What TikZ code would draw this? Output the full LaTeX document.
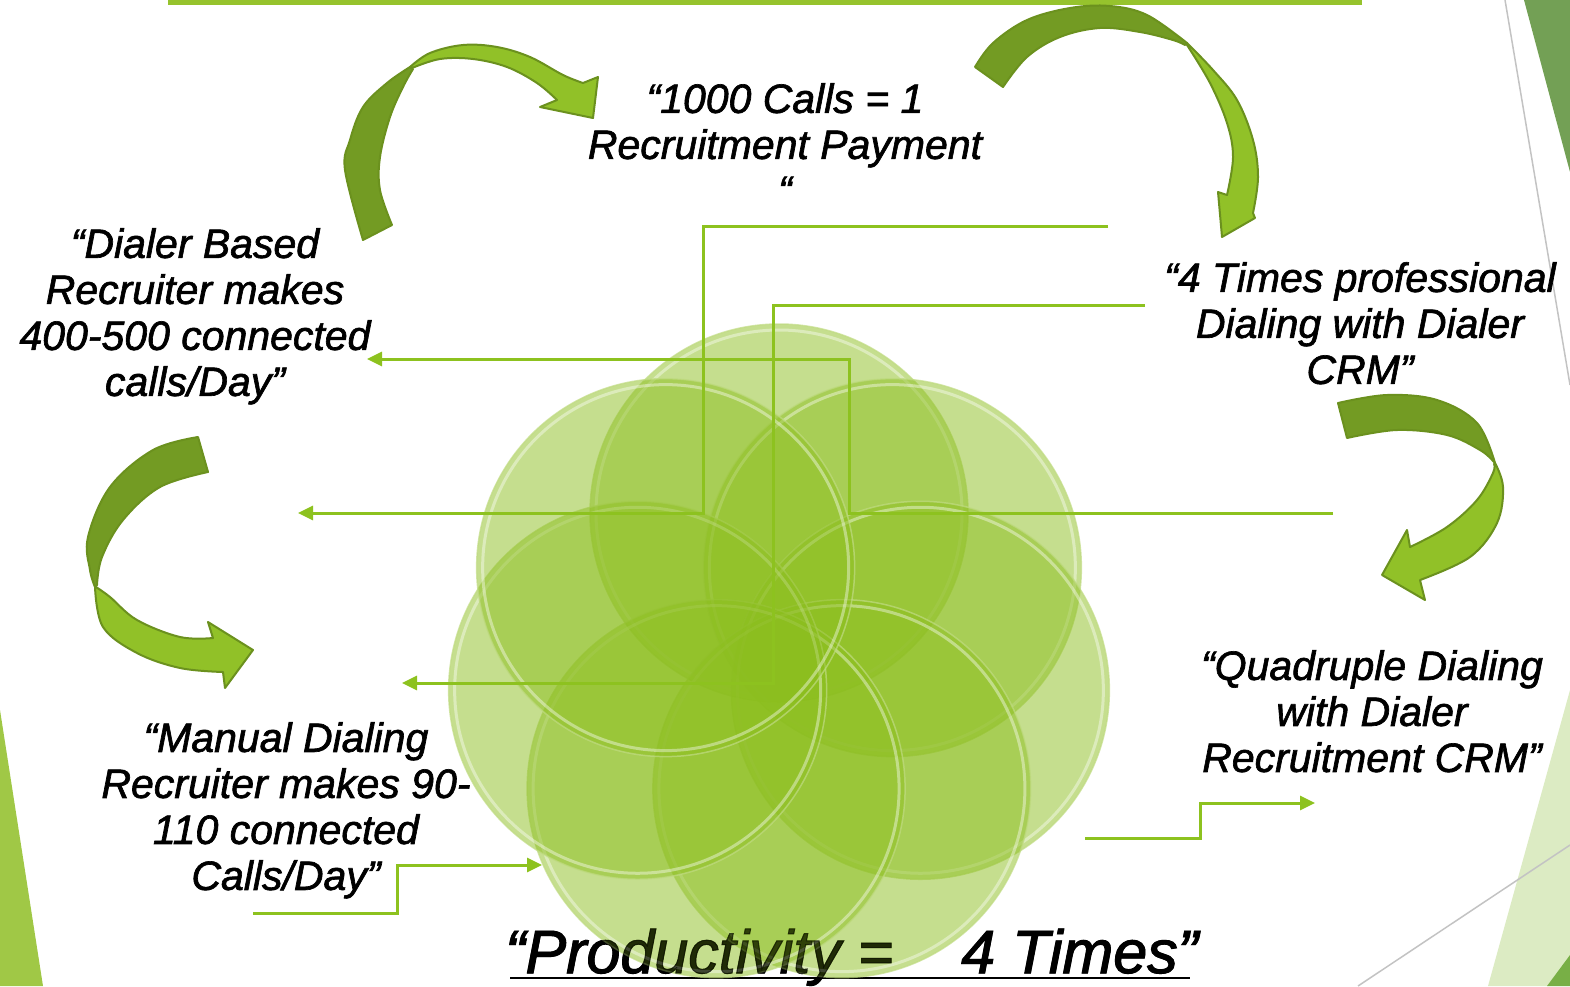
\documentclass[tikz,border=0pt]{standalone}
\usepackage{fontspec}
\setmainfont{Liberation Sans}[ItalicFeatures={FakeBold=1.6}]
\usetikzlibrary{arrows.meta,calc}
\definecolor{cgreen}{RGB}{140,190,30}
\definecolor{conn}{RGB}{141,194,31}
\definecolor{adark}{RGB}{115,155,35}
\definecolor{alight}{RGB}{145,193,40}
\definecolor{aline}{RGB}{107,145,30}
\definecolor{topbar}{RGB}{150,195,45}
\definecolor{decodark}{RGB}{115,160,85}
\definecolor{decolight}{RGB}{220,235,195}
\definecolor{decomid}{RGB}{160,200,70}
\definecolor{decobr}{RGB}{120,175,70}
\definecolor{greyline}{RGB}{195,195,195}
\begin{document}
\begin{tikzpicture}[x=1pt,y=-1pt,
  lbl/.style={font=\fontsize{41}{46}\selectfont\itshape, align=center, text=black, inner sep=0pt, anchor=north},
  prodfont/.style={font=\fontsize{61}{66}\selectfont\itshape, inner sep=0pt, anchor=base west},
  conline/.style={draw=conn, line width=3pt},
  conarrow/.style={conline, -{Triangle[length=15pt,width=14pt]}},
  petal/.style={fill=cgreen, fill opacity=0.5, draw=cgreen!55!white, draw opacity=0.7, line width=1.5pt},
  glass/.style={draw=white, draw opacity=0.4, line width=3pt},
  darkband/.style={fill=adark, draw=aline, line width=2pt, line join=round},
  lightband/.style={fill=alight, draw=aline, line width=2pt, line join=round},
  curve/.style={smooth, tension=0.6}
]
\useasboundingbox (0,0) rectangle (1570,986);
% background decorations
\fill[topbar] (168,0) rectangle (1362,5);
\fill[decodark] (1524,0) -- (1570,0) -- (1570,172) -- cycle;
\draw[greyline, line width=1.5pt] (1505,0) -- (1570,385);
\fill[decolight] (1570,690) -- (1488,986) -- (1570,986) -- cycle;
\fill[decobr] (1547,986) -- (1570,955) -- (1570,986) -- cycle;
\draw[greyline, line width=1.5pt] (1358,986) -- (1570,845);
\fill[decomid] (0,710) -- (43,986) -- (0,986) -- cycle;

% bottom title (under the circles)
\node[prodfont] (prod) at (505,973) {“Productivity =\hspace{68pt}4 Times”};
\draw[black, line width=2pt] ($(prod.base west)+(5,5)$) -- ($(prod.base east)+(-8,5)$);

% rosette of circles
\coordinate (cen) at (779,658);
\foreach \k in {0,...,6} {
  \path[petal] ($(cen)+({-90+\k*51.4286}:145)$) circle[radius=189];
  \path[glass] ($(cen)+({-90+\k*51.4286}:145)$) circle[radius=183];
}
% title seen through the translucent circles
\node[prodfont, text opacity=0.55] (prodtop) at (505,973) {“Productivity =\hspace{68pt}4 Times”};

% labels
\node[lbl] (t1) at (785,83) {“1000 Calls = 1\\Recruitment Payment\\“};
\node[lbl] (t2) at (195,228) {“Dialer Based\\Recruiter makes\\400-500 connected\\calls/Day”};
\node[lbl] (t3) at (1360,262) {“4 Times professional\\Dialing with Dialer\\CRM”};
\node[lbl] (t4) at (1372,650) {“Quadruple Dialing\\with Dialer\\Recruitment CRM”};
\node[lbl] (t5) at (286,722) {“Manual Dialing\\Recruiter makes 90-\\110 connected\\Calls/Day”};

% connectors
\coordinate (a1s) at (1108,226); \coordinate (a1m) at (703,513); \coordinate (a1e) at (298,513);
\coordinate (a2s) at (1145,305); \coordinate (a2m) at (773,683); \coordinate (a2e) at (402,683);
\coordinate (a3s) at (1333,513); \coordinate (a3m) at (849,359); \coordinate (a3e) at (367,359);
\coordinate (a4s) at (253,913);  \coordinate (a4m) at (397,865); \coordinate (a4e) at (542,865);
\coordinate (a5s) at (1085,838); \coordinate (a5m) at (1200,803); \coordinate (a5e) at (1315,803);
\draw[conarrow] (a1s) -| (a1m) -- (a1e);
\draw[conarrow] (a2s) -| (a2m) -- (a2e);
\draw[conarrow] (a3s) -| (a3m) -- (a3e);
\draw[conarrow] (a4s) -| (a4m) -- (a4e);
\draw[conarrow] (a5s) -| (a5m) -- (a5e);

% curved arrow A (top left)
\filldraw[darkband] plot[curve] coordinates {(363,240) (345,170) (350,140) (363,107) (387,83) (410,67)}
  -- plot[curve] coordinates {(413,69) (403,87) (390,117) (380,157) (380,190) (392,225)} -- cycle;
\filldraw[lightband] plot[curve] coordinates {(410,67) (430,53) (463,45) (497,47) (530,57) (563,75) (583,83)}
  -- (598,77) -- (593,118) -- (540,107) --
  plot[curve] coordinates {(557,100) (537,83) (507,67) (473,59) (440,59) (412,68)} -- cycle;

% curved arrow B (top right)
\filldraw[darkband] plot[curve] coordinates {(975,67) (993,43) (1027,20) (1070,8) (1110,6) (1147,15) (1187,43)}
  -- plot[curve] coordinates {(1185,45) (1173,40) (1140,32) (1100,28) (1060,37) (1027,57) (1003,87)} -- cycle;
\filldraw[lightband] plot[curve] coordinates {(1187,43) (1213,70) (1237,100) (1253,140) (1258,177) (1253,213)}
  -- (1255,218) -- (1222,237) -- (1218,192) --
  plot[curve] coordinates {(1227,195) (1233,157) (1227,123) (1210,83) (1187,45)} -- cycle;

% curved arrow C (left)
\filldraw[darkband] plot[curve] coordinates {(198,437) (153,450) (110,487) (88,537) (90,570) (95,587)}
  -- plot[curve] coordinates {(97,585) (102,557) (123,520) (160,487) (208,472)} -- cycle;
\filldraw[lightband] plot[curve] coordinates {(95,587) (103,627) (137,653) (180,668) (223,672)}
  -- (225,688) -- (253,650) -- (208,622) --
  plot[curve] coordinates {(213,638) (180,637) (137,620) (110,597) (96,587)} -- cycle;

% curved arrow D (right)
\filldraw[darkband] plot[curve] coordinates {(1338,403) (1387,395) (1437,400) (1477,423) (1495,463)}
  -- plot[curve] coordinates {(1493,461) (1480,450) (1447,435) (1397,430) (1347,438)} -- cycle;
\filldraw[lightband] plot[curve] coordinates {(1495,463) (1503,487) (1497,523) (1470,557) (1420,580)}
  -- (1425,600) -- (1382,575) -- (1407,530) --
  plot[curve] coordinates {(1410,547) (1447,527) (1477,500) (1493,473) (1494,464)} -- cycle;
\end{tikzpicture}
\end{document}
